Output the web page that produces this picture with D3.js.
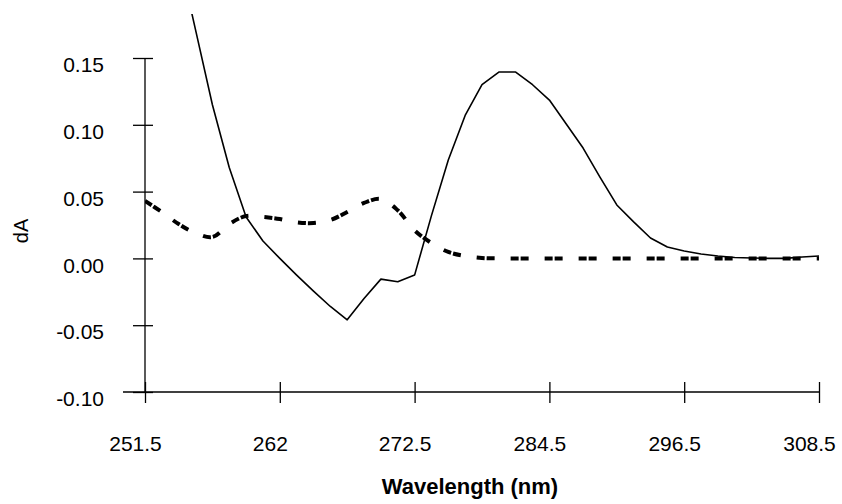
<!DOCTYPE html>
<html>
<head>
<meta charset="utf-8">
<script src="https://cdn.jsdelivr.net/npm/d3@7"></script>
<style>
  body { margin: 0; background: #fff; }
  svg { display: block; font-family: "Liberation Sans", Arial, Helvetica, sans-serif; }
</style>
</head>
<body>
<svg width="842" height="504"></svg>
<script>
// wavelengths (categories, nm)
const wavelengths = [251.5, 253, 254, 255.5, 256.5, 258, 259, 260.5, 262, 263.5, 264.5, 266, 267, 268.5,
  269.5, 271, 272.5, 274, 275.5, 277, 278.5, 280, 281.5, 283, 284.5, 286, 287.5, 289, 290.5, 292,
  293.5, 295, 296.5, 298, 299.5, 301, 302.5, 304, 305.5, 307, 308.5]
const xTickLabels = [251.5, 262, 272.5, 284.5, 296.5, 308.5]
const yTicks = [-0.10, -0.05, 0.00, 0.05, 0.10, 0.15]

// solid derivative spectrum
const solid = [0.36, 0.30, 0.227, 0.171, 0.115, 0.068, 0.031, 0.013, 0.000, -0.0125, -0.0245,
  -0.036, -0.046, -0.030, -0.0155, -0.0175, -0.0125, 0.032, 0.0737, 0.107, 0.130, 0.1395, 0.1395,
  0.130, 0.1185, 0.1006, 0.0826, 0.0609, 0.040, 0.0273, 0.0153, 0.0085, 0.0055, 0.0033, 0.0018,
  0.0007, 0.0003, 0.0, 0.0, 0.001, 0.0018]
// dashed derivative spectrum
const dashed = [0.043, 0.0347, 0.0257, 0.019, 0.016, 0.0257, 0.0317, 0.031, 0.0295, 0.027, 0.0265,
  0.0287, 0.0347, 0.0415, 0.0445, 0.036, 0.021, 0.0115, 0.0048, 0.0018, 0.0003, 0, 0, 0, 0, 0, 0,
  0, 0, 0, 0, 0, 0, 0, 0, 0, 0, 0, 0, 0, 0]

const svg = d3.select('svg'),
    plotLeft = 145, plotRight = 819, plotTop = 58, plotBottom = 392,
    x = d3.scalePoint().domain(wavelengths).range([plotLeft, plotRight]),
    y = d3.scaleLinear().domain([-0.10, 0.15]).range([plotBottom, plotTop])

svg.append('clipPath').attr('id', 'plot')
  .append('rect').attr('x', plotLeft).attr('y', 14).attr('width', plotRight - plotLeft + 2).attr('height', plotBottom - 14)

const line = d3.line()
  .x((d, i) => x(wavelengths[i]))
  .y(d => y(d))

const lines = svg.append('g').attr('clip-path', 'url(#plot)')
lines.append('path').datum(dashed)
  .attr('d', line.curve(d3.curveCatmullRom.alpha(0.5))).attr('fill', 'none').attr('stroke', '#000')
  .attr('stroke-width', 4).attr('stroke-dasharray', '8,2,8,16')
lines.append('path').datum(solid)
  .attr('d', line.curve(d3.curveLinear)).attr('fill', 'none').attr('stroke', '#000')
  .attr('stroke-width', 1.6).attr('stroke-linejoin', 'round')

// y axis
const yAxis = svg.append('g')
  .attr('transform', `translate(${plotLeft},0)`)
  .call(d3.axisLeft(y).tickValues(yTicks).tickFormat(d3.format('.2f')).tickSize(12).tickSizeOuter(0))
yAxis.select('.domain').remove()
yAxis.append('line').attr('y1', plotTop).attr('y2', plotBottom).attr('stroke', '#000').attr('stroke-width', 1.3)
yAxis.selectAll('.tick line').attr('x2', 8).attr('x1', -12).attr('stroke-width', 1.3)
yAxis.selectAll('.tick text').attr('x', -41).attr('dy', '0.32em').attr('y', 7)
  .attr('font-size', 21).attr('fill', '#000')
  .text(d => d3.format('.2f')(d).replace('−', '-'))

// x axis
const xAxis = svg.append('g')
  .attr('transform', `translate(0,${plotBottom})`)
  .call(d3.axisBottom(x).tickValues(xTickLabels).tickSize(11).tickSizeOuter(0))
xAxis.select('.domain').remove()
xAxis.append('line').attr('x1', 123).attr('x2', plotRight).attr('stroke', '#000').attr('stroke-width', 1.3)
xAxis.selectAll('.tick line').attr('y1', -10).attr('stroke-width', 1.3)
xAxis.selectAll('.tick text').attr('x', -10).attr('y', 52).attr('dy', '0.32em')
  .attr('font-size', 21).attr('fill', '#000')

svg.append('text')
  .attr('x', 470).attr('y', 494)
  .attr('text-anchor', 'middle')
  .attr('font-size', 22).attr('font-weight', 'bold')
  .text('Wavelength (nm)')

svg.append('text')
  .attr('transform', 'translate(28,231) rotate(-90)')
  .attr('text-anchor', 'middle')
  .attr('font-size', 20)
  .text('dA')
</script>
</body>
</html>
